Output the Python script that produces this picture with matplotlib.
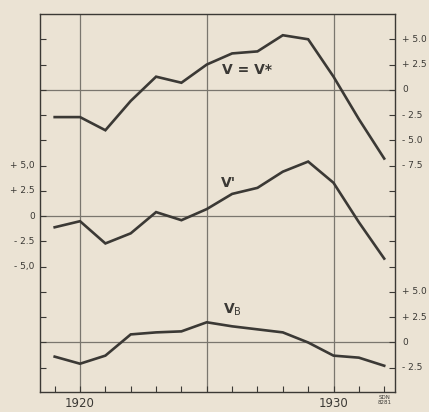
import matplotlib
matplotlib.use("Agg")
import matplotlib.pyplot as plt
import numpy as np

# ---- data ----
years = list(range(1919, 1933))
v_vstar = [-2.7, -2.7, -4.0, -1.1, 1.3, 0.7, 2.5, 3.6, 3.8, 5.4, 5.0, 1.3, -2.9, -6.8]
v_prime = [-1.1, -0.5, -2.7, -1.7, 0.4, -0.4, 0.7, 2.2, 2.8, 4.4, 5.4, 3.3, -0.6, -4.2]
v_b = [-1.4, -2.1, -1.3, 0.8, 1.0, 1.1, 2.0, 1.6, 1.3, 1.0, 0.0, -1.3, -1.5, -2.3]

left_labels = ["+ 5,0", "+ 2.5", "0", "- 2.5", "- 5,0"]
right_top_labels = ["+ 5.0", "+ 2.5", "0", "- 2.5", "- 5.0", "- 7.5"]
right_bottom_labels = ["+ 5.0", "+ 2.5", "0", "- 2.5"]
year_labels = ["1920", "1930"]

# ---- layout ----
bg = "#ebe3d4"
ink = "#3b3935"
grid = "#7a766e"
off_top, off_mid, off_bot = 12.5, 0.0, -12.5

fig = plt.figure(figsize=(4.29, 4.12), dpi=100, facecolor=bg)
ax = fig.add_axes([0.0932, 0.0485, 0.8278, 0.9175], facecolor=bg)
ax.set_xlim(1918.42, 1932.43)
ax.set_ylim(-17.4, 20.0)

# grid lines
for yr in (1920, 1925, 1930):
    ax.axvline(yr, color=grid, lw=0.9, zorder=1)
for off in (off_top, off_mid, off_bot):
    ax.axhline(off, color=grid, lw=0.9, zorder=1)

# series
for vals, off in ((v_vstar, off_top), (v_prime, off_mid), (v_b, off_bot)):
    ax.plot(years, np.array(vals) + off, color=ink, lw=1.9, solid_joinstyle="miter", zorder=3)

# series labels
ax.text(1926.6, off_top + 2.0, "V = V*", fontsize=10, color=ink, ha="center", va="center",
        fontweight="bold")
ax.text(1925.85, off_mid + 3.3, "V'", fontsize=10, color=ink, ha="center", va="center",
        fontweight="bold")
ax.text(1926.0, off_bot + 3.2, "V$_\\mathrm{B}$", fontsize=10, color=ink, ha="center",
        va="center", fontweight="bold")

# spines
for s in ax.spines.values():
    s.set_color(ink)
    s.set_linewidth(1.0)

# ticks
yt = np.arange(-15, 17.6, 2.5)
ax.set_yticks(yt)
ax.set_yticklabels([])
ax.set_xticks(years)
ax.set_xticklabels([])
ax.tick_params(axis="both", direction="in", length=4, width=0.8, color=ink,
               left=True, right=True, bottom=True, top=False)

ylo, yhi = ax.get_ylim()
# left labels (middle series)
for lab, v in zip(left_labels, [5, 2.5, 0, -2.5, -5]):
    ax.text(-0.015, (v + off_mid - ylo) / (yhi - ylo), lab, transform=ax.transAxes,
            ha="right", va="center", fontsize=6.5, color=ink)
# right labels (top and bottom series)
for lab, v in zip(right_top_labels, [5, 2.5, 0, -2.5, -5, -7.5]):
    ax.text(1.02, (v + off_top - ylo) / (yhi - ylo), lab, transform=ax.transAxes,
            ha="left", va="center", fontsize=6.5, color=ink)
for lab, v in zip(right_bottom_labels, [5, 2.5, 0, -2.5]):
    ax.text(1.02, (v + off_bot - ylo) / (yhi - ylo), lab, transform=ax.transAxes,
            ha="left", va="center", fontsize=6.5, color=ink)

# year labels
for lab in year_labels:
    ax.text(int(lab), -0.012, lab, transform=ax.get_xaxis_transform(), ha="center", va="top",
            fontsize=8.5, color=ink)
ax.text(1932.0, -0.008, "SDN\n8281", transform=ax.get_xaxis_transform(), ha="center",
        va="top", fontsize=4, color=ink, linespacing=0.9)

fig.savefig("out.png", dpi=100, facecolor=bg)
